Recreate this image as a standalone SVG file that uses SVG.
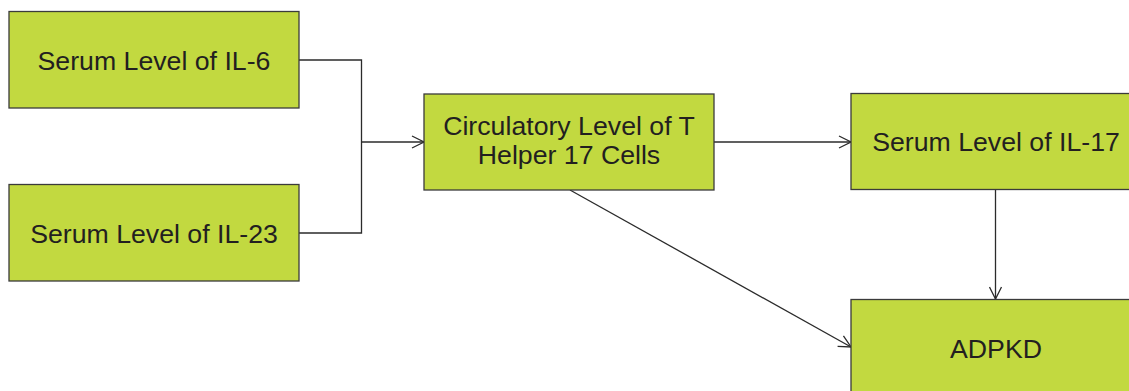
<svg xmlns="http://www.w3.org/2000/svg" width="1129" height="391" viewBox="0 0 1129 391">
  <defs>
    <style>
      .box { fill: #c2d940; stroke: #3b3b3b; stroke-width: 1.3; }
      .lbl { font-family: "Liberation Sans", Arial, sans-serif; font-size: 26.7px; fill: #231f20; text-anchor: middle; }
      .wire { fill: none; stroke: #2b2b2b; stroke-width: 1.3; }
    </style>
    <marker id="open" viewBox="0 0 14 14" refX="13" refY="7" markerWidth="14" markerHeight="14" markerUnits="userSpaceOnUse" orient="auto">
      <path d="M1,1 L13,7 L1,13" fill="none" stroke="#2b2b2b" stroke-width="1.3"/>
    </marker>
  </defs>
  <rect width="1129" height="391" fill="#ffffff"/>

  <g id="connectors">
    <polyline class="wire" points="299,60 361.5,60 361.5,233 299,233"/>
    <line class="wire" x1="361.5" y1="142" x2="424" y2="142" marker-end="url(#open)"/>
    <line class="wire" x1="714" y1="142" x2="851" y2="142" marker-end="url(#open)"/>
    <line class="wire" x1="995.5" y1="190" x2="995.5" y2="299" marker-end="url(#open)"/>
    <line class="wire" x1="570" y1="190" x2="851" y2="347" marker-end="url(#open)"/>
  </g>

  <g id="il6">
    <rect class="box" x="9" y="11.5" width="290" height="96.5"/>
    <text class="lbl" x="154" y="70">Serum Level of IL-6</text>
  </g>
  <g id="il23">
    <rect class="box" x="9" y="184.5" width="290" height="96.5"/>
    <text class="lbl" x="154" y="243">Serum Level of IL-23</text>
  </g>
  <g id="th17">
    <rect class="box" x="424" y="94" width="290" height="96"/>
    <text class="lbl" x="569" y="135">Circulatory Level of T</text>
    <text class="lbl" x="569" y="164">Helper 17 Cells</text>
  </g>
  <g id="il17">
    <rect class="box" x="851" y="93.5" width="290" height="96"/>
    <text class="lbl" x="996" y="151">Serum Level of IL-17</text>
  </g>
  <g id="adpkd">
    <rect class="box" x="851" y="299.5" width="290" height="100"/>
    <text class="lbl" x="996" y="358">ADPKD</text>
  </g>
</svg>
